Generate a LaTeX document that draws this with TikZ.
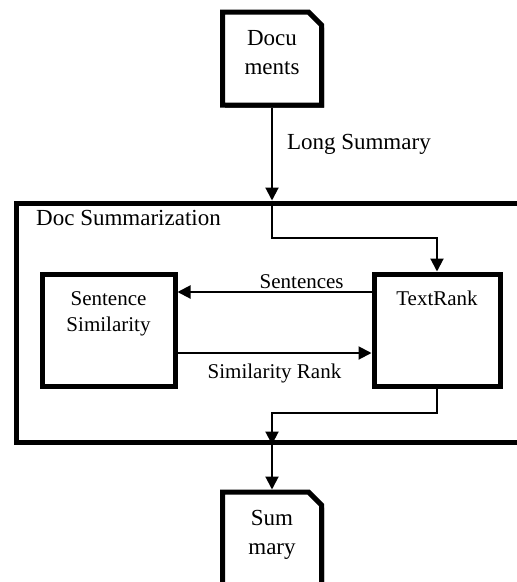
\documentclass[tikz,border=0pt]{standalone}
\usepackage{fontspec}
\setmainfont{Liberation Serif}
\usetikzlibrary{arrows.meta, shapes.misc, shadows, positioning}
\tikzset{
  >={Triangle[length=13pt,width=13pt]},
  flow/.style={->, line width=2pt},
  heavy/.style={draw, line width=5pt, fill=white, inner sep=0pt,
    drop shadow={shadow xshift=2.5pt, shadow yshift=-2.5pt, opacity=1, fill=black}},
  process/.style={heavy, rectangle, align=center, text height=31pt, text depth=81pt,
    font=\fontsize{21}{26}\selectfont},
  docbox/.style={heavy, chamfered rectangle, chamfered rectangle corners=north east,
    chamfered rectangle xsep=6pt, chamfered rectangle ysep=7pt,
    align=center, text width=87pt, text height=26pt, text depth=53pt,
    font=\fontsize{23}{29}\selectfont},
  biglabel/.style={inner sep=0pt, font=\fontsize{23}{28}\selectfont},
  smalllabel/.style={inner sep=2pt, font=\fontsize{21}{25}\selectfont},
}

\begin{document}
\begin{tikzpicture}[x=1pt, y=-1pt]
  \useasboundingbox (0,0) rectangle (517,582);
  \clip (0,0) rectangle (517,582);

  % outer group, cut off on the right
  \node[heavy, minimum width=524pt, minimum height=239pt] (grp) at (278,322.5) {};
  \node[biglabel, anchor=west] (grptitle) at (36,218) {Doc Summarization};

  \node[docbox] (docs) at (272,58.5) {Docu\\ments};
  \node[docbox] (summ) at (272,538.5) {Sum\\mary};
  \node[process, text width=133pt] (sim) at (108.5,330) {Sentence\\Similarity};
  \node[process, text width=126pt] (rank) at (437,330) {TextRank};

  \draw[flow] (docs) -- node[biglabel, right=14pt, pos=0.4] {Long Summary} (docs.south |- grp.north);
  \draw[flow] (docs.south |- grp.north) -- ++(0,37) -| (rank);
  \draw[flow] ([yshift=38pt]rank.west) -- node[smalllabel, above, pos=0.36] {Sentences} ([yshift=38pt]sim.east);
  \draw[flow] ([yshift=-23pt]sim.east) -- node[smalllabel, below=8pt] {Similarity Rank} ([yshift=-23pt]rank.west);
  \draw[flow] (rank.south) -- ++(0,24) -| (summ.north |- grp.south);
  \draw[flow] (summ.north |- grp.south) -- (summ);
\end{tikzpicture}
\end{document}
